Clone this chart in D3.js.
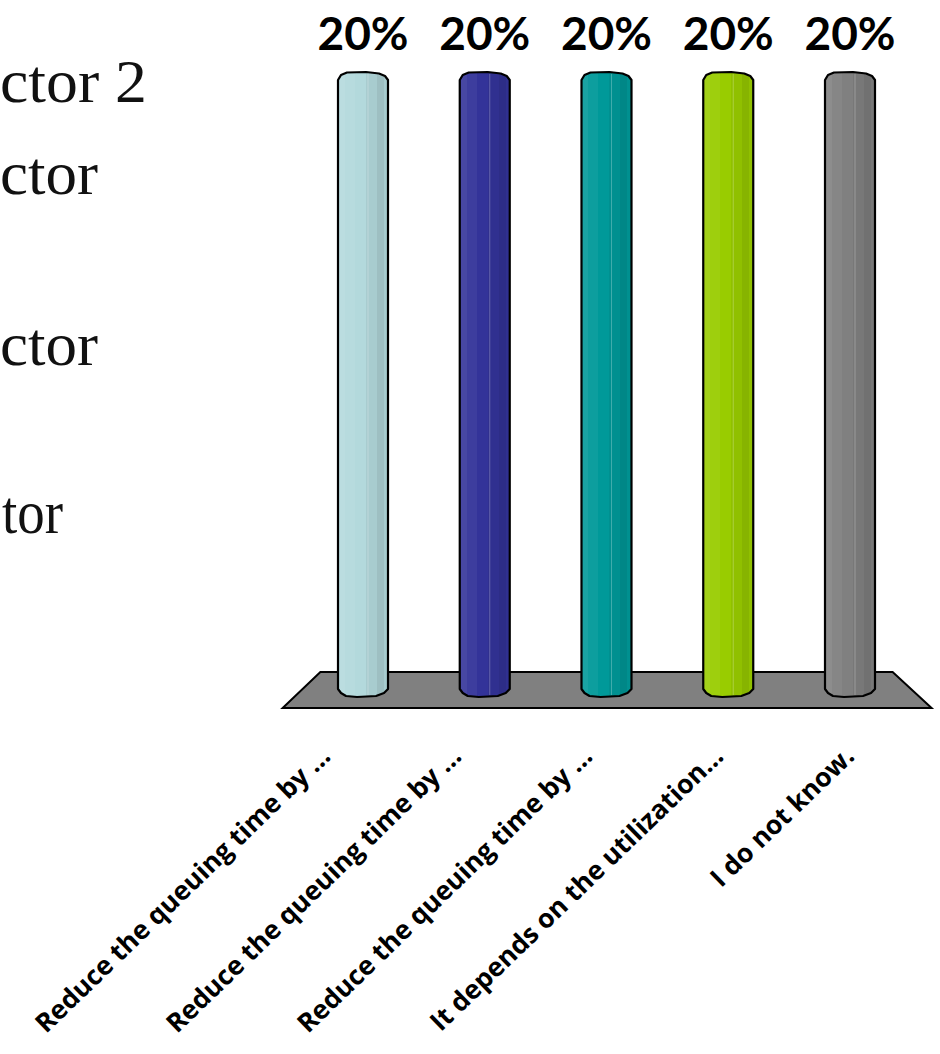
<!DOCTYPE html>
<html>
<head>
<meta charset="utf-8">
<script src="https://cdn.jsdelivr.net/npm/d3@7"></script>
<style>
  html, body { margin: 0; padding: 0; background: #ffffff; }
  svg { display: block; }
</style>
</head>
<body>
<script>
// Poll results: share of answers per option
const categories = [
  "Reduce the queuing time by …",
  "Reduce the queuing time by …",
  "Reduce the queuing time by …",
  "It depends on the utilization…",
  "I do not know."
];
const shares = [0.2, 0.2, 0.2, 0.2, 0.2];
const shareLabels = ["20%", "20%", "20%", "20%", "20%"];
const barColors = ["#b3d9dc", "#333399", "#009999", "#99cc00", "#808080"];

// Slide body text running off the left edge
const slideLines = ["ctor 2", "ctor", "ctor", "tor"];
const slideBaselines = [102, 194, 365, 533];
const slideSpans = [[0, 147], [0, 98], [0, 98], [2, 63]];

const W = 940, H = 1054;
const svg = d3.select("body").append("svg")
  .attr("width", W).attr("height", H);
const defs = svg.append("defs");

// Slide text
svg.append("g").selectAll("text")
  .data(slideLines)
  .join("text")
  .attr("x", (d, i) => slideSpans[i][0])
  .attr("y", (d, i) => slideBaselines[i])
  .attr("textLength", (d, i) => slideSpans[i][1] - slideSpans[i][0])
  .attr("lengthAdjust", "spacingAndGlyphs")
  .attr("font-family", "'Liberation Serif', 'Times New Roman', serif")
  .attr("font-size", 62)
  .attr("fill", "#111")
  .text(d => d);

// Scales: bar centres across the back of the floor, values upward
const idx = d3.range(categories.length);
const x = d3.scalePoint().domain(idx).range([363, 850]);
const y = d3.scaleLinear().domain([0, 0.2]).range([694, 76]);
// Category labels sit along the front edge of the floor, which is wider in perspective
const xFront = d3.scalePoint().domain(idx).range([332, 856]);

const barW = 50;

// Floor (value 0 plane)
const step = x.step();
const floorBackY = y(0) - 22, floorFrontY = y(0) + 14;
const floorPts = [
  [x(0) - step * 0.35, floorBackY],
  [x(idx.length - 1) + step * 0.35, floorBackY],
  [x(idx.length - 1) + step * 0.67, floorFrontY],
  [x(0) - step * 0.66, floorFrontY]
];
svg.append("path")
  .attr("d", "M" + floorPts.map(p => p.join(",")).join("L") + "Z")
  .attr("fill", "#808080")
  .attr("stroke", "#000")
  .attr("stroke-width", 2)
  .attr("stroke-linejoin", "miter");

// Faceted shading for each cylinder
barColors.forEach((c, i) => {
  const lt = t => d3.interpolateRgb(c, "#ffffff")(t);
  const dk = t => d3.interpolateRgb(c, "#000000")(t);
  const facets = [
    [0.00, 0.14, lt(0.10)],
    [0.14, 0.34, lt(0.05)],
    [0.34, 0.56, c],
    [0.56, 0.78, dk(0.06)],
    [0.78, 0.92, dk(0.12)],
    [0.92, 1.00, dk(0.06)]
  ];
  const g = defs.append("linearGradient")
    .attr("id", "facet" + i)
    .attr("x1", 0).attr("x2", 1).attr("y1", 0).attr("y2", 0);
  facets.forEach(([a, b, col]) => {
    g.append("stop").attr("offset", a).attr("stop-color", col);
    g.append("stop").attr("offset", b).attr("stop-color", col);
  });
});

function cylinderPath(cx, top, bottom) {
  const x0 = cx - barW / 2, x1 = cx + barW / 2;
  const p = d3.path();
  p.moveTo(x0, top + 4);
  p.lineTo(x0 + 3, top - 1);
  p.lineTo(x0 + 9, top - 3.5);
  p.lineTo(cx + 3, top - 4);
  p.lineTo(x1 - 9, top - 2.5);
  p.lineTo(x1 - 3, top);
  p.lineTo(x1, top + 4);
  p.lineTo(x1, bottom - 5);
  p.lineTo(x1 - 4, bottom - 1);
  p.lineTo(x1 - 12, bottom + 2);
  p.lineTo(cx - 6, bottom + 3);
  p.lineTo(x0 + 8, bottom + 2);
  p.lineTo(x0 + 3, bottom - 1);
  p.lineTo(x0, bottom - 5);
  p.closePath();
  return p.toString();
}

const bars = svg.append("g").selectAll("g")
  .data(idx)
  .join("g");

bars.append("path")
  .attr("d", i => cylinderPath(x(i), y(shares[i]), y(0)))
  .attr("fill", i => `url(#facet${i})`)
  .attr("stroke", "#000")
  .attr("stroke-width", 2.2)
  .attr("stroke-linejoin", "round");

// faint facet edge highlight
bars.append("line")
  .attr("x1", i => x(i) - barW / 2 + barW * 0.6)
  .attr("x2", i => x(i) - barW / 2 + barW * 0.6)
  .attr("y1", i => y(shares[i]) - 2)
  .attr("y2", i => y(0) + 1)
  .attr("stroke", "#ffffff")
  .attr("stroke-opacity", 0.25)
  .attr("stroke-width", 1);

// Value labels
svg.append("g").selectAll("text")
  .data(idx)
  .join("text")
  .attr("x", i => x(i))
  .attr("y", i => y(shares[i]) - 26)
  .attr("text-anchor", "middle")
  .attr("font-family", "Lato, 'Open Sans', sans-serif")
  .attr("font-weight", 700)
  .attr("font-size", 46)
  .attr("fill", "#000")
  .text(i => shareLabels[i]);

// Category labels, rotated; size chosen so the longest option spans ~398px
const catLabels = svg.append("g").selectAll("text")
  .data(idx)
  .join("text")
  .attr("transform", i => `translate(${xFront(i)},${y(0) + 64}) rotate(-44)`)
  .attr("text-anchor", "end")
  .attr("font-family", "'Open Sans', Lato, sans-serif")
  .attr("font-weight", 700)
  .attr("font-size", 27)
  .attr("fill", "#000")
  .text(i => categories[i]);
const baseLen = catLabels.nodes()[0].getComputedTextLength();
if (baseLen > 0) catLabels.attr("font-size", 27 * 398 / baseLen);
</script>
</body>
</html>
